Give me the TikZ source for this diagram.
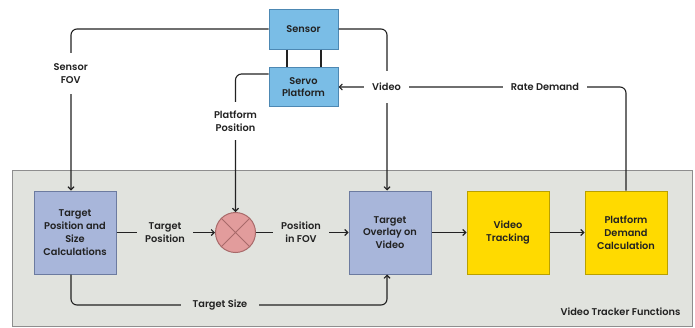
\documentclass[tikz,border=0pt]{standalone}
\usepackage{fontspec}
\setmainfont{Poppins}[BoldFont={Poppins SemiBold}]
\usetikzlibrary{arrows.meta,calc}
\definecolor{sensfill}{HTML}{7ABDE6}
\definecolor{sensdraw}{HTML}{4D88B3}
\definecolor{calcfill}{HTML}{A8B6DA}
\definecolor{calcdraw}{HTML}{6C7BA0}
\definecolor{multfill}{HTML}{E29C9C}
\definecolor{multdraw}{HTML}{A86A6A}
\definecolor{yelfill}{HTML}{FFDA00}
\definecolor{yeldraw}{HTML}{B9A000}
\definecolor{grpfill}{HTML}{E1E3DE}
\definecolor{grpdraw}{HTML}{8E8E8E}
\definecolor{ink}{HTML}{222222}
\tikzset{
  box/.style={draw, line width=1pt, minimum width=82pt, minimum height=83pt, inner sep=2pt,
    align=center, font=\fontsize{9.8}{12.8}\selectfont\bfseries, text=ink},
  bluebox/.style={box, fill=sensfill, draw=sensdraw, minimum width=69pt, minimum height=40pt},
  calcbox/.style={box, fill=calcfill, draw=calcdraw},
  yelbox/.style={box, fill=yelfill, draw=yeldraw},
  conn/.style={draw=ink, line width=1.1pt, rounded corners=6pt},
  arr/.style={conn, -{Straight Barb[length=3pt,width=6pt]}},
  lbl/.style={align=center, font=\fontsize{9.8}{13}\selectfont\bfseries, text=ink, inner xsep=8pt, inner ysep=7pt},
  wlbl/.style={lbl, fill=white},
  glbl/.style={lbl, fill=grpfill},
}
\begin{document}
\begin{tikzpicture}[x=1pt,y=-1pt]
\useasboundingbox (0,0) rectangle (695,327);
\fill[white] (0,0) rectangle (695,327);
% group box
\draw[fill=grpfill, draw=grpdraw, line width=1pt] (12,170) rectangle (692,326);
\node[text=ink, font=\fontsize{9.8}{12}\selectfont\bfseries, anchor=east] (grp) at (684,312) {Video Tracker Functions};
% nodes
\node[bluebox] (sensor) at (303.5,29) {Sensor};
\node[bluebox, minimum height=39pt] (servo) at (303.5,87) {Servo\\Platform};
\node[calcbox] (tpsc) at (75,232.5) {Target\\Position and\\Size\\Calculations};
\node[circle, draw=multdraw, fill=multfill, line width=1pt, minimum size=40pt, inner sep=0pt] (mult) at (235.5,232.5) {};
\draw[multdraw, line width=1pt] (mult.north west) -- (mult.south east) (mult.north east) -- (mult.south west);
\node[calcbox] (overlay) at (390,232.5) {Target\\Overlay on\\Video};
\node[yelbox] (vtrack) at (508,232.5) {Video\\Tracking};
\node[yelbox] (pdc) at (626,232.5) {Platform\\Demand\\Calculation};
% sensor-servo links
\draw[conn] ([xshift=-16.5pt]sensor.south) -- ([xshift=-16.5pt]servo.north);
\draw[conn] ([xshift=17.5pt]sensor.south) -- ([xshift=17.5pt]servo.north);
% connectors
\coordinate (ts) at (220,305);
\draw[arr] (sensor.west) -| ([xshift=-4pt]tpsc.north);
\draw[arr] (sensor.east) -| ([xshift=-3pt]overlay.north);
\draw[arr] (pdc.north) |- (servo.east);
\draw[arr] ([yshift=13pt]servo.west) -| (mult.north);
\draw[arr] (tpsc.east) -- (mult.west);
\draw[arr] (mult.east) -- (overlay.west);
\draw[arr] (overlay.east) -- (vtrack.west);
\draw[arr] (vtrack.east) -- (pdc.west);
\draw[conn] ([xshift=-4pt]tpsc.south) |- (ts);
\draw[arr] (ts) -| ([xshift=-3pt]overlay.south);
% labels
\node[wlbl, inner ysep=10pt] (lfov) at (70.7,73.5) {Sensor\\FOV};
\node[wlbl, inner ysep=12pt] (lvid) at (386.5,87) {Video};
\node[wlbl] (lrate) at (545,87) {Rate Demand};
\node[wlbl, inner ysep=9pt] (lpp) at (235.5,121) {Platform\\Position};
\node[glbl] (ltp) at (165,232.5) {Target\\Position};
\node[glbl] (lpf) at (301,232.5) {Position\\in FOV};
\node[glbl, inner xsep=12pt] (lts) at (ts) {Target Size};
\end{tikzpicture}
\end{document}
